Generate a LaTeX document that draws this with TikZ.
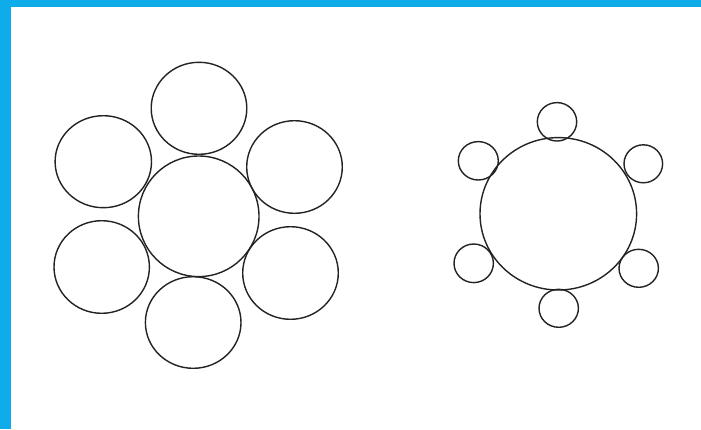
\documentclass[tikz,border=0pt]{standalone}
\definecolor{frameblue}{RGB}{14,172,232}
\definecolor{ink}{RGB}{35,35,35}
\tikzset{ring/.style={draw=ink,line width=1.4pt}}
\begin{document}
\begin{tikzpicture}[x=1pt,y=-1pt]
\useasboundingbox (0,0) rectangle (701,429);
\fill[white] (0,0) rectangle (701,429);
\fill[frameblue] (0,0) rectangle (701,7);
\fill[frameblue] (0,0) rectangle (11,429);
% left cluster
\draw[ring] (198.7,216.3) ellipse (60.3pt and 60.3pt);
\draw[ring] (199,108.3) ellipse (47.8pt and 46pt);
\draw[ring] (103.3,161.7) ellipse (48.2pt and 46pt);
\draw[ring] (294.5,167) ellipse (47.8pt and 46.3pt);
\draw[ring] (101.7,267) ellipse (47.7pt and 46.3pt);
\draw[ring] (290.5,273) ellipse (47.8pt and 46.3pt);
\draw[ring] (193.2,322.5) ellipse (47.8pt and 45.8pt);
% right cluster
\draw[ring] (558.3,213.8) ellipse (78.3pt and 76.2pt);
\draw[ring] (557,121.8) ellipse (19.7pt and 19.2pt);
\draw[ring] (478.3,160.8) ellipse (20pt and 19.2pt);
\draw[ring] (643.3,163.8) ellipse (19.3pt and 19pt);
\draw[ring] (473.7,263.3) ellipse (19.7pt and 19.3pt);
\draw[ring] (638.7,268.3) ellipse (19.7pt and 19pt);
\draw[ring] (558.7,308.3) ellipse (19.7pt and 19pt);
\end{tikzpicture}
\end{document}
